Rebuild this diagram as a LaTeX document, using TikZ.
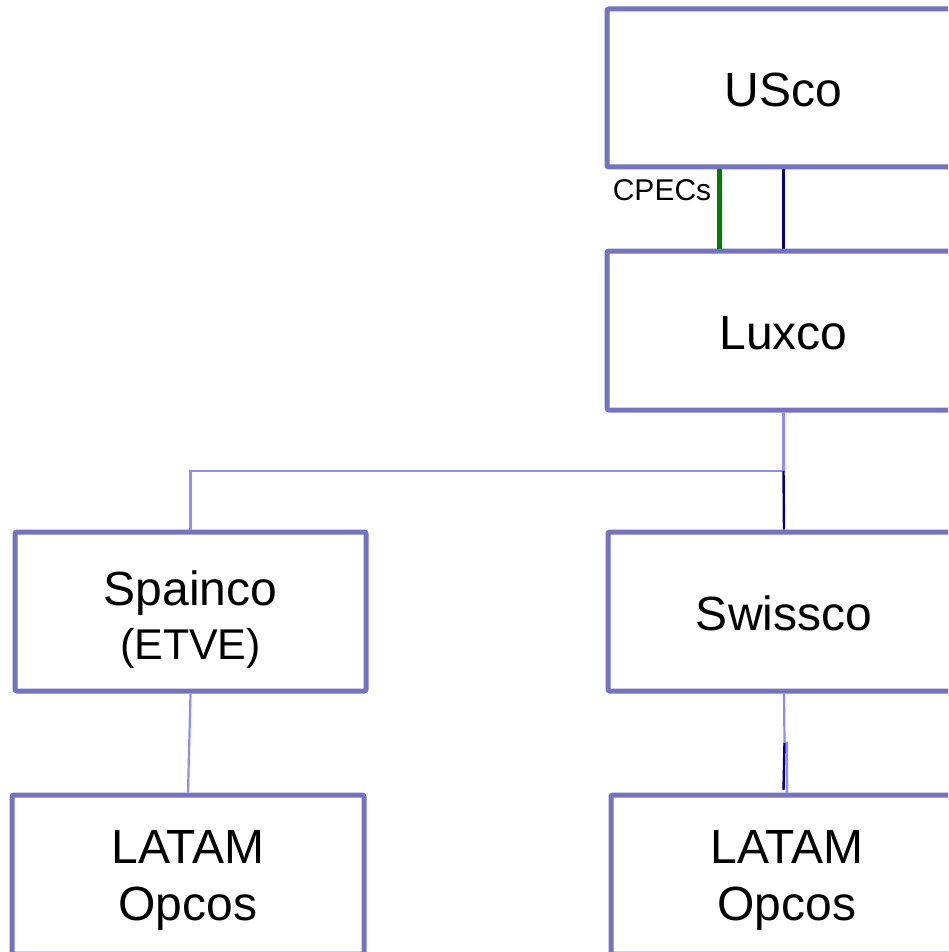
\documentclass[tikz,border=0pt]{standalone}
\usepackage{fontspec}
\setmainfont{Liberation Sans}
\definecolor{boxblue}{RGB}{115,115,191}
\definecolor{lightblue}{RGB}{140,140,255}
\definecolor{navyline}{RGB}{0,0,128}
\definecolor{greenline}{RGB}{0,128,0}
\begin{document}
\begin{tikzpicture}[x=1pt,y=-1pt,
  box/.style={draw=boxblue, line width=5pt, rounded corners=2pt, minimum height=159pt, inner sep=0pt},
  boxtext/.style={inner sep=0pt, align=center, font=\fontsize{48}{57}\selectfont},
  lightconn/.style={draw=lightblue, line width=2.2pt},
  navyconn/.style={draw=navyline, line width=2.4pt},
  greenconn/.style={draw=greenline, line width=5pt},
  lbl/.style={inner sep=0pt, font=\fontsize{30}{36}\selectfont}]
\useasboundingbox (0,0) rectangle (948,952);
\clip (0,0) rectangle (948,952);
\fill[white] (0,0) rectangle (948,952);
% boxes
\node[box, minimum width=353pt, minimum height=158pt] (usco) at (783.5,88) {};
\node[box, minimum width=353pt] (lux) at (783.5,330.5) {};
\node[box, minimum width=351pt] (spain) at (190.5,611.5) {};
\node[box, minimum width=352pt] (swiss) at (784,611.5) {};
\node[box, minimum width=352pt] (latamL) at (188,874.5) {};
\node[box, minimum width=352pt] (latamR) at (787,874.5) {};
% texts
\node[boxtext] (uscot) at (783.5,90) {USco};
\node[boxtext] (luxt) at (783.5,333) {Luxco};
\node[boxtext] (spaint) at (190.5,619.5) {Spainco\\[-3pt]{\fontsize{43}{50}\selectfont(ETVE)}};
\node[boxtext] (swisst) at (784,613.5) {Swissco};
\node[boxtext] (latamLt) at (188,880) {LATAM\\Opcos};
\node[boxtext] (latamRt) at (787,880) {LATAM\\Opcos};
% label
\node[lbl] (cpecs) at (662,190) {CPECs};
% connectors USco - Luxco
\coordinate (gx) at (719,0);
\draw[greenconn] (usco.south -| gx) -- (lux.north -| gx);
\draw[navyconn] (usco.south) -- (lux.north);
% Luxco to Spainco and Swissco
\coordinate (j) at (783.5,471);
\draw[lightconn] (lux.south) -- (j) -| (spain.north);
\draw[navyconn] (j) -- (swiss.north);
% Spainco to LATAM
\draw[lightconn] (spain.south) -- (latamL.north);
% Swissco to LATAM
\coordinate (k) at (784.5,743);
\coordinate (k3) at (787,743);
\coordinate (k2) at (783.5,790);
\draw[lightconn] (swiss.south) -- (k) -- (k3) -- (latamR.north);
\draw[navyconn] (k) -- (k2);
\end{tikzpicture}
\end{document}
